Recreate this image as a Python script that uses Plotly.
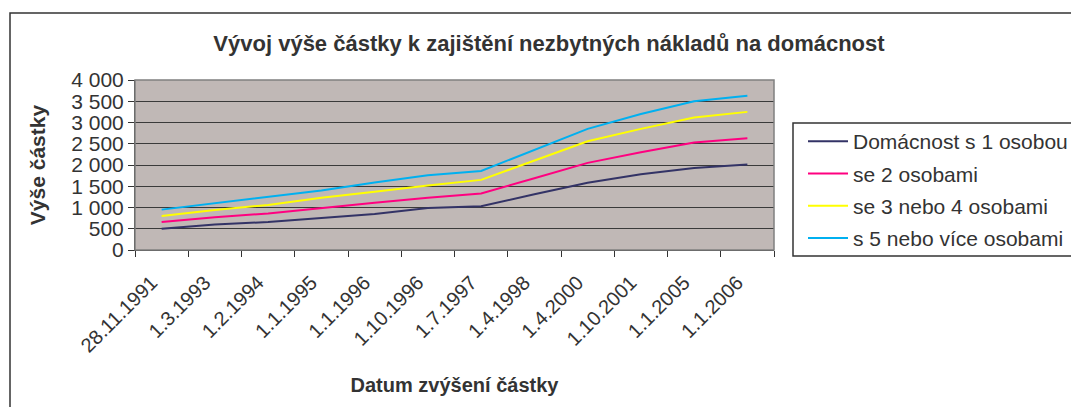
import plotly.graph_objects as go

# category labels (dates of increase)
dates = ["28.11.1991", "1.3.1993", "1.2.1994", "1.1.1995", "1.1.1996", "1.10.1996",
         "1.7.1997", "1.4.1998", "1.4.2000", "1.10.2001", "1.1.2005", "1.1.2006"]

# amounts
s1 = [500, 600, 660, 750, 850, 990, 1030, 1310, 1580, 1780, 1930, 2010]
s2 = [660, 770, 860, 990, 1110, 1230, 1330, 1690, 2050, 2300, 2530, 2630]
s34 = [800, 940, 1060, 1230, 1370, 1520, 1650, 2110, 2560, 2850, 3120, 3250]
s5 = [950, 1100, 1250, 1400, 1590, 1760, 1860, 2360, 2850, 3200, 3500, 3630]

names = ["Domácnost s 1 osobou", "se 2 osobami", "se 3 nebo 4 osobami", "s 5 nebo více osobami"]
colors = ["#333366", "#ff0080", "#ffff00", "#00b0f0"]

W, H = 1079, 407
OFF = 8  # page body margin
L, R, T, B = 135 - OFF, 305 + OFF, 80 - OFF, 157 + OFF
pw, ph = W - L - R, H - T - B


def px(x):
    # screen pixel -> paper x
    return (x - OFF - L) / pw


def py(y):
    # screen pixel -> paper y
    return (H - B - (y - OFF)) / ph


fig = go.Figure()
for i, (name, vals) in enumerate(zip(names, [s1, s2, s34, s5])):
    fig.add_trace(go.Scatter(
        x=dates, y=vals, mode="lines", name=name, legendgroup=name,
        line=dict(color=colors[i], width=2),
    ))

txt = "#333333"
fig.update_layout(
    width=W, height=H,
    margin=dict(l=L, r=R, t=T, b=B, autoexpand=False),
    paper_bgcolor="white",
    plot_bgcolor="#c0b8b6",
    separators=", ",
    font=dict(family="Liberation Sans, Arial, sans-serif", color=txt),
    title=dict(text="<b>Vývoj výše částky k zajištění nezbytných nákladů na domácnost</b>",
               x=(549 - OFF) / W, xanchor="center", y=1 - (43 - OFF) / H, yanchor="middle",
               font=dict(size=22, color=txt)),
    showlegend=True,
    legend=dict(x=px(803), y=py(121), xanchor="left", yanchor="top",
                font=dict(size=21, color=txt), tracegroupgap=2,
                itemwidth=40, bgcolor="rgba(0,0,0,0)"),
    xaxis=dict(
        type="category", range=[-0.5, len(dates) - 0.5], automargin=False,
        tickson="boundaries", ticks="outside", ticklen=6, tickcolor="#333333",
        tickangle=-45, tickfont=dict(size=20, color=txt),
        ticklabelshift=-10, ticklabelstandoff=12,
        showgrid=False, showline=True, linecolor="#333333", linewidth=1,
        title=dict(text="<b>Datum zvýšení částky</b>", font=dict(size=20, color=txt), standoff=22),
    ),
    yaxis=dict(
        range=[0, 4000], dtick=500, tickformat=",d", automargin=False,
        ticks="outside", ticklen=6, tickcolor="#333333",
        tickfont=dict(size=21, color=txt),
        showgrid=True, gridcolor="#3a3a3a", gridwidth=1,
        showline=True, linecolor="#333333", linewidth=1, zeroline=False,
        title=dict(text="<b>Výše částky</b>", font=dict(size=21, color=txt), standoff=19),
    ),
    shapes=[
        # outer chart frame
        dict(type="rect", xref="paper", yref="paper", x0=px(10), x1=px(1095),
             y0=py(425), y1=py(13), line=dict(color="#333333", width=1.5), layer="below"),
        # plot area border
        dict(type="rect", xref="paper", yref="paper", x0=0, x1=1, y0=0, y1=1,
             line=dict(color="#808080", width=1.5)),
        # legend frame
        dict(type="rect", xref="paper", yref="paper", x0=px(793), x1=px(1095),
             y0=py(256), y1=py(123), line=dict(color="#333333", width=1.5)),
    ],
)

fig.write_html("out.html")
